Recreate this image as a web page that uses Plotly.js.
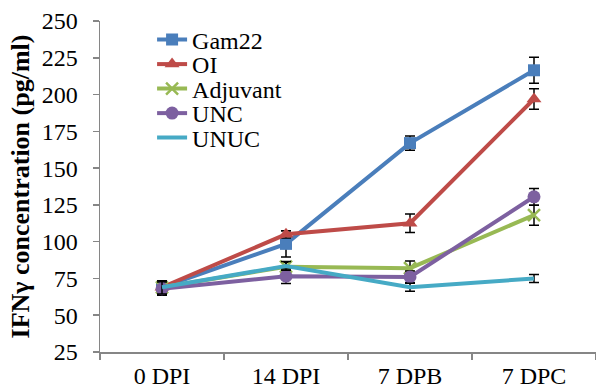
<!DOCTYPE html>
<html>
<head>
<meta charset="utf-8">
<script src="https://cdn.plot.ly/plotly-3.0.1.min.js"></script>
<style>html,body{margin:0;padding:0;background:#fff;}#chart{width:596px;height:392px;}</style>
</head>
<body>
<div id="chart"></div>
<script>
const categories = ["0 DPI", "14 DPI", "7 DPB", "7 DPC"];
const seriesNames = ["Gam22", "OI", "Adjuvant", "UNC", "UNUC"];
const gam22 = [69, 98.5, 167, 216.5];
const oi = [69, 105, 112.5, 197];
const adjuvant = [69, 83, 82, 118];
const unc = [68, 76.5, 76, 130.5];
const unuc = [69, 83.5, 69, 75];
const gam22Err = [4.5, 9, 4.8, 8.8];
const oiErr = [4.5, 2.5, 6.3, 7];
const adjuvantErr = [4.5, 3, 4.8, 6.8];
const uncErr = [4.5, 5, 4, 5.7];
const unucErr = [4.5, 3, 2.7, 2.7];
const yTicks = [25, 50, 75, 100, 125, 150, 175, 200, 225, 250];

const values = [gam22, oi, adjuvant, unc, unuc];
const errs = [gam22Err, oiErr, adjuvantErr, uncErr, unucErr];
const colors = ["#4A7EBB", "#BE4B48", "#98B954", "#7D60A0", "#46AAC5"];
const symbols = ["square", "triangle-up", "x-thin-open", "circle", "circle"];
const sizes = [12, 13, 12, 13, 0];
const legendIds = ["legend", "legend2", "legend3", "legend4", "legend5"];

const traces = seriesNames.map((name, i) => ({
  type: "scatter",
  mode: i === 4 ? "lines" : "lines+markers",
  name: name,
  legend: legendIds[i],
  x: categories,
  y: values[i],
  line: {color: colors[i], width: 4},
  marker: {symbol: symbols[i], size: sizes[i], color: colors[i], line: {color: colors[i], width: i === 2 ? 2.5 : 0}},
  error_y: {type: "data", array: errs[i], visible: true, color: "#000", thickness: 1.5, width: 5}
}));

const serif = "Times New Roman";
const layout = {
  width: 596, height: 392,
  margin: {l: 100, r: 0, t: 21, b: 40},
  paper_bgcolor: "#fff", plot_bgcolor: "#fff",
  font: {family: serif, size: 24, color: "#000"},
  xaxis: {
    type: "category", range: [-0.5, 3.5],
    showline: true, linecolor: "#868686", linewidth: 1.5,
    ticks: "outside", ticklen: 6, tickcolor: "#868686", tickwidth: 1.5,
    tickson: "boundaries", showgrid: false, zeroline: false,
    tickfont: {family: serif, size: 24, color: "#000"}, ticklabelstandoff: 2
  },
  yaxis: {
    range: [25, 250], tickvals: yTicks,
    showline: true, linecolor: "#868686", linewidth: 1.5,
    ticks: "outside", ticklen: 6, tickcolor: "#868686", tickwidth: 1.5,
    showgrid: false, zeroline: false,
    tickfont: {family: serif, size: 24, color: "#000"}, ticklabelstandoff: 10,
    title: {text: "<b>IFNγ concentration (pg/ml)</b>", font: {family: serif, size: 26, color: "#000"}, standoff: 4}
  },
  showlegend: true
};
const legendY = [0.9426, 0.8686, 0.7946, 0.7205, 0.6465];
legendIds.forEach((id, i) => {
  layout[id] = {
    x: 0.105, y: legendY[i], xanchor: "left", yanchor: "middle",
    bgcolor: "rgba(0,0,0,0)", font: {family: serif, size: 24, color: "#000"},
    itemwidth: 30, borderwidth: 0
  };
});

Plotly.newPlot("chart", traces, layout, {displayModeBar: false, staticPlot: true});
</script>
</body>
</html>
